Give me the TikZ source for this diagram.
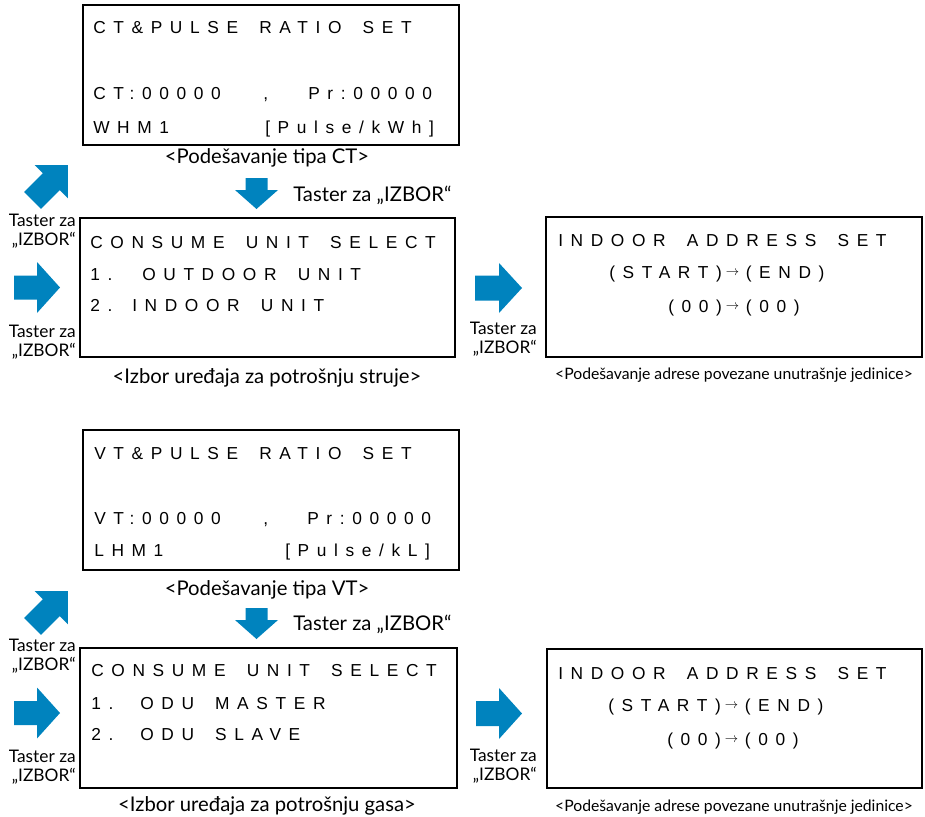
\documentclass[tikz,border=0pt]{standalone}
\usepackage{fontspec}
\newfontfamily\lcdfont[LetterSpace=44, WordSpace=1.7]{Liberation Sans}
\newfontfamily\capfont{Lato}
\usetikzlibrary{fit}
\definecolor{tasterblue}{RGB}{0,131,190}
\newcommand{\lcdarr}{\kern3pt\raisebox{2pt}{\fontsize{10}{10}\selectfont$\rightarrow$}\kern5pt}

\tikzset{
  pics/pfeil/.style args={#1/#2/#3/#4}{code={
    \fill[tasterblue] (0,-#2) -- ({#1-#4},-#2) -- ({#1-#4},-#3) -- (#1,0)
      -- ({#1-#4},#3) -- ({#1-#4},#2) -- (0,#2) -- cycle;}},
}

\begin{document}
\begin{tikzpicture}[x=0.75pt, y=-0.75pt,
  lcdbox/.style={draw, line width=1.6pt, inner sep=0pt},
  lcd/.style={font=\lcdfont\fontsize{13}{15}\selectfont, anchor=base west, inner sep=0pt},
  capt/.style={font=\capfont\fontsize{15.2}{18}\selectfont, inner sep=0pt},
  keycapt/.style={font=\capfont\fontsize{13}{14.25}\selectfont, inner sep=0pt, align=right, anchor=east},
  smallcapt/.style={font=\capfont\fontsize{11.8}{13}\selectfont, inner sep=0pt}]
\useasboundingbox (0,0) rectangle (925,817);

% --- upper half: CT ---
\node[lcdbox, fit={(83,5) (459,145)}] (ctbox) {};
\node[lcd] (cttitle) at (93,34) {CT\&PULSE RATIO SET};
\node[lcd] (ctval) at (93,99) {CT:00000};
\node[lcd] (ctcomma) at (263,99) {,};
\node[lcd] (ctpr) at (308,99) {Pr:00000};
\node[lcd] (ctwhm) at (93,133) {WHM1};
\node[lcd] (ctunit) at (265,133) {[Pulse/kWh]};
\node[capt] (ctcap) at (267,158) {<Podešavanje tipa CT>};

\pic[rotate=-90] at (256.5,178) {pfeil=31/11/21.5/19};
\node[capt, anchor=west] (ctkey) at (293,195) {Taster za „IZBOR“};
\pic[rotate=45] at (32.6,200.4) {pfeil=50/12/23.5/23.5};
\node[keycapt] (cuup1) at (76,231.5) {Taster za\\„IZBOR“};
\pic at (14,287.5) {pfeil=46/12/25.5/23};
\node[keycapt] (cudn1) at (76,342.5) {Taster za\\„IZBOR“};

\node[lcdbox, fit={(80,218) (455,357)}] (cubox1) {};
\node[lcd] (cutitle1) at (90,248) {CONSUME UNIT SELECT};
\node[lcd] (cuone1) at (90,280) {\makebox[39pt][l]{1.}OUTDOOR UNIT};
\node[lcd] (cutwo1) at (90,311) {\makebox[31.5pt][l]{2.}INDOOR UNIT};
\node[capt] (cucap1) at (267,378) {<Izbor uređaja za potrošnju struje>};

\pic at (475,288) {pfeil=47/12.5/25/23};
\node[keycapt] (inkey1) at (537,339) {Taster za\\„IZBOR“};
\node[lcdbox, fit={(546,217) (922,357)}] (inbox1) {};
\node[lcd] (intitle1) at (558,246) {INDOOR ADDRESS SET};
\node[lcd] (inrange1) at (609,278) {(START)\lcdarr(END)};
\node[lcd] (inval1) at (668,312) {(00)\lcdarr(00)};
\node[smallcapt] (incap1) at (734,375) {<Podešavanje adrese povezane unutrašnje jedinice>};

% --- lower half: VT ---
\node[lcdbox, fit={(83,430) (459,570)}] (vtbox) {};
\node[lcd] (vttitle) at (94,459) {VT\&PULSE RATIO SET};
\node[lcd] (vtval) at (94,524) {VT:00000};
\node[lcd] (vtcomma) at (263,524) {,};
\node[lcd] (vtpr) at (307,524) {Pr:00000};
\node[lcd] (vtlhm) at (94,556) {LHM1};
\node[lcd] (vtunit) at (285,556) {[Pulse/kL]};
\node[capt] (vtcap) at (267,590) {<Podešavanje tipa VT>};

\pic[rotate=-90] at (256.5,608) {pfeil=31/11/21.5/19};
\node[capt, anchor=west] (vtkey) at (293,624) {Taster za „IZBOR“};
\pic[rotate=45] at (32.6,626.4) {pfeil=50/12/23.5/23.5};
\node[keycapt] (cuup2) at (76,656) {Taster za\\„IZBOR“};
\pic at (14,713) {pfeil=46/12/25.5/23};
\node[keycapt] (cudn2) at (76,767.5) {Taster za\\„IZBOR“};

\node[lcdbox, fit={(80,648) (457,788)}] (cubox2) {};
\node[lcd] (cutitle2) at (91,676) {CONSUME UNIT SELECT};
\node[lcd] (cuone2) at (91,709) {\makebox[36.75pt][l]{1.}ODU MASTER};
\node[lcd] (cutwo2) at (91,740) {\makebox[36.75pt][l]{2.}ODU SLAVE};
\node[capt] (cucap2) at (267,806) {<Izbor uređaja za potrošnju gasa>};

\pic at (476,713.5) {pfeil=46/12.5/25.5/23};
\node[keycapt] (inkey2) at (537,766) {Taster za\\„IZBOR“};
\node[lcdbox, fit={(547,649) (922,788)}] (inbox2) {};
\node[lcd] (intitle2) at (558,679) {INDOOR ADDRESS SET};
\node[lcd] (inrange2) at (608,711) {(START)\lcdarr(END)};
\node[lcd] (inval2) at (667,745) {(00)\lcdarr(00)};
\node[smallcapt] (incap2) at (734,807) {<Podešavanje adrese povezane unutrašnje jedinice>};
\end{tikzpicture}
\end{document}
